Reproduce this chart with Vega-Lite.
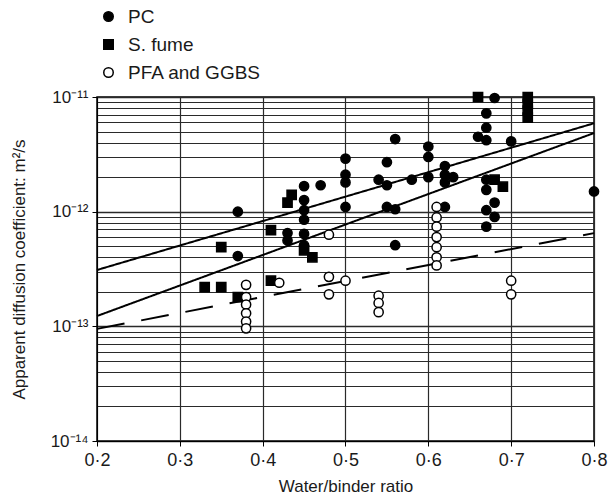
{
  "$schema": "https://vega.github.io/schema/vega-lite/v6.json",
  "width": 497,
  "height": 344,
  "autosize": "none",
  "padding": {"left": 97, "top": 97, "right": 15, "bottom": 58},
  "background": "white",
  "config": {
    "font": "Liberation Sans",
    "view": {"stroke": "black", "strokeWidth": 1.5},
    "axis": {"labelColor": "#1a1a1a", "titleColor": "#1a1a1a", "titleFontWeight": "normal", "domainColor": "black", "tickColor": "black"}
  },
  "datasets": {
    "fits": [
      {"fit": "PC upper", "wb": 0.2, "D": 3.1e-13},
      {"fit": "PC upper", "wb": 0.8, "D": 5.9e-12},
      {"fit": "all lower", "wb": 0.2, "D": 1.23e-13},
      {"fit": "all lower", "wb": 0.8, "D": 4.85e-12},
      {"fit": "blended", "wb": 0.2, "D": 9.5e-14},
      {"fit": "blended", "wb": 0.8, "D": 6.5e-13}
    ],
    "points": [
      {"binder": "PC", "wb": 0.37, "D": 1.0e-12},
      {"binder": "PC", "wb": 0.37, "D": 4.1e-13},
      {"binder": "PC", "wb": 0.43, "D": 6.5e-13},
      {"binder": "PC", "wb": 0.43, "D": 5.6e-13},
      {"binder": "PC", "wb": 0.45, "D": 1.67e-12},
      {"binder": "PC", "wb": 0.45, "D": 1.26e-12},
      {"binder": "PC", "wb": 0.45, "D": 1.03e-12},
      {"binder": "PC", "wb": 0.45, "D": 8.5e-13},
      {"binder": "PC", "wb": 0.45, "D": 6.4e-13},
      {"binder": "PC", "wb": 0.45, "D": 5.1e-13},
      {"binder": "PC", "wb": 0.47, "D": 1.7e-12},
      {"binder": "PC", "wb": 0.5, "D": 2.9e-12},
      {"binder": "PC", "wb": 0.5, "D": 2.1e-12},
      {"binder": "PC", "wb": 0.5, "D": 1.8e-12},
      {"binder": "PC", "wb": 0.5, "D": 1.1e-12},
      {"binder": "PC", "wb": 0.54, "D": 1.9e-12},
      {"binder": "PC", "wb": 0.55, "D": 2.7e-12},
      {"binder": "PC", "wb": 0.55, "D": 1.7e-12},
      {"binder": "PC", "wb": 0.55, "D": 1.1e-12},
      {"binder": "PC", "wb": 0.56, "D": 4.3e-12},
      {"binder": "PC", "wb": 0.56, "D": 1.05e-12},
      {"binder": "PC", "wb": 0.56, "D": 5.1e-13},
      {"binder": "PC", "wb": 0.58, "D": 1.9e-12},
      {"binder": "PC", "wb": 0.6, "D": 3.7e-12},
      {"binder": "PC", "wb": 0.6, "D": 3.0e-12},
      {"binder": "PC", "wb": 0.6, "D": 2.0e-12},
      {"binder": "PC", "wb": 0.62, "D": 2.5e-12},
      {"binder": "PC", "wb": 0.62, "D": 2.1e-12},
      {"binder": "PC", "wb": 0.62, "D": 1.8e-12},
      {"binder": "PC", "wb": 0.63, "D": 2.0e-12},
      {"binder": "PC", "wb": 0.62, "D": 1.1e-12},
      {"binder": "PC", "wb": 0.68, "D": 9.8e-12},
      {"binder": "PC", "wb": 0.67, "D": 7.2e-12},
      {"binder": "PC", "wb": 0.67, "D": 5.4e-12},
      {"binder": "PC", "wb": 0.66, "D": 4.5e-12},
      {"binder": "PC", "wb": 0.67, "D": 4.2e-12},
      {"binder": "PC", "wb": 0.7, "D": 4.1e-12},
      {"binder": "PC", "wb": 0.67, "D": 1.9e-12},
      {"binder": "PC", "wb": 0.67, "D": 1.55e-12},
      {"binder": "PC", "wb": 0.68, "D": 1.2e-12},
      {"binder": "PC", "wb": 0.67, "D": 1.03e-12},
      {"binder": "PC", "wb": 0.68, "D": 9.0e-13},
      {"binder": "PC", "wb": 0.67, "D": 7.4e-13},
      {"binder": "PC", "wb": 0.8, "D": 1.5e-12},
      {"binder": "S. fume", "wb": 0.35, "D": 4.9e-13},
      {"binder": "S. fume", "wb": 0.33, "D": 2.2e-13},
      {"binder": "S. fume", "wb": 0.35, "D": 2.2e-13},
      {"binder": "S. fume", "wb": 0.37, "D": 1.8e-13},
      {"binder": "S. fume", "wb": 0.41, "D": 6.9e-13},
      {"binder": "S. fume", "wb": 0.41, "D": 2.5e-13},
      {"binder": "S. fume", "wb": 0.43, "D": 1.2e-12},
      {"binder": "S. fume", "wb": 0.435, "D": 1.4e-12},
      {"binder": "S. fume", "wb": 0.45, "D": 4.6e-13},
      {"binder": "S. fume", "wb": 0.46, "D": 4.0e-13},
      {"binder": "S. fume", "wb": 0.66, "D": 1.0e-11},
      {"binder": "S. fume", "wb": 0.72, "D": 1.0e-11},
      {"binder": "S. fume", "wb": 0.72, "D": 8.7e-12},
      {"binder": "S. fume", "wb": 0.72, "D": 7.6e-12},
      {"binder": "S. fume", "wb": 0.72, "D": 6.6e-12},
      {"binder": "S. fume", "wb": 0.68, "D": 1.9e-12},
      {"binder": "S. fume", "wb": 0.69, "D": 1.65e-12},
      {"binder": "PFA and GGBS", "wb": 0.38, "D": 2.3e-13},
      {"binder": "PFA and GGBS", "wb": 0.38, "D": 1.8e-13},
      {"binder": "PFA and GGBS", "wb": 0.38, "D": 1.55e-13},
      {"binder": "PFA and GGBS", "wb": 0.38, "D": 1.3e-13},
      {"binder": "PFA and GGBS", "wb": 0.38, "D": 1.1e-13},
      {"binder": "PFA and GGBS", "wb": 0.38, "D": 9.6e-14},
      {"binder": "PFA and GGBS", "wb": 0.42, "D": 2.4e-13},
      {"binder": "PFA and GGBS", "wb": 0.48, "D": 6.3e-13},
      {"binder": "PFA and GGBS", "wb": 0.48, "D": 2.7e-13},
      {"binder": "PFA and GGBS", "wb": 0.48, "D": 1.9e-13},
      {"binder": "PFA and GGBS", "wb": 0.5, "D": 2.5e-13},
      {"binder": "PFA and GGBS", "wb": 0.54, "D": 1.85e-13},
      {"binder": "PFA and GGBS", "wb": 0.54, "D": 1.6e-13},
      {"binder": "PFA and GGBS", "wb": 0.54, "D": 1.33e-13},
      {"binder": "PFA and GGBS", "wb": 0.61, "D": 1.1e-12},
      {"binder": "PFA and GGBS", "wb": 0.61, "D": 8.9e-13},
      {"binder": "PFA and GGBS", "wb": 0.61, "D": 7.4e-13},
      {"binder": "PFA and GGBS", "wb": 0.61, "D": 6.0e-13},
      {"binder": "PFA and GGBS", "wb": 0.61, "D": 4.9e-13},
      {"binder": "PFA and GGBS", "wb": 0.61, "D": 4.0e-13},
      {"binder": "PFA and GGBS", "wb": 0.61, "D": 3.4e-13},
      {"binder": "PFA and GGBS", "wb": 0.7, "D": 2.5e-13},
      {"binder": "PFA and GGBS", "wb": 0.7, "D": 1.9e-13}
    ]
  },
  "layer": [
    {
      "data": {"name": "fits"},
      "mark": {"type": "line", "color": "black", "strokeWidth": 2},
      "encoding": {
        "x": {
          "field": "wb", "type": "quantitative",
          "scale": {"domain": [0.2, 0.8], "nice": false, "zero": false},
          "axis": {
            "title": "Water/binder ratio",
            "values": [0.2, 0.3, 0.4, 0.5, 0.6, 0.7, 0.8],
            "labelExpr": "replace(format(datum.value, '.1f'), '.', '·')",
            "labelFontSize": 18, "labelPadding": 5, "tickSize": 5,
            "labelFlush": false, "labelOverlap": false,
            "grid": true, "gridColor": "#2a2a2a", "gridWidth": 1.2,
            "titleFontSize": 17, "titlePadding": 9
          }
        },
        "y": {
          "field": "D", "type": "quantitative",
          "scale": {"type": "log", "domain": [1e-14, 1e-11], "nice": false},
          "axis": {
            "title": "Apparent diffusion coefficient: m²/s",
            "values": [1e-14, 2e-14, 3e-14, 4e-14, 5e-14, 6e-14, 7e-14, 8e-14, 9e-14,
                       1e-13, 2e-13, 3e-13, 4e-13, 5e-13, 6e-13, 7e-13, 8e-13, 9e-13,
                       1e-12, 2e-12, 3e-12, 4e-12, 5e-12, 6e-12, 7e-12, 8e-12, 9e-12, 1e-11],
            "labelExpr": "abs(log(datum.value)/LN10 - round(log(datum.value)/LN10)) > 0.001 ? '' : round(log(datum.value)/LN10) == -14 ? '10⁻¹⁴' : round(log(datum.value)/LN10) == -13 ? '10⁻¹³' : round(log(datum.value)/LN10) == -12 ? '10⁻¹²' : '10⁻¹¹'",
            "labelOverlap": false, "labelFlush": false,
            "labelFontSize": 17, "labelPadding": 4, "tickSize": 5,
            "tickOpacity": {"condition": {"test": "abs(log(datum.value)/LN10 - round(log(datum.value)/LN10)) < 0.001", "value": 1}, "value": 0},
            "grid": true, "gridColor": "#2a2a2a",
            "gridWidth": {"condition": {"test": "abs(log(datum.value)/LN10 - round(log(datum.value)/LN10)) < 0.001", "value": 1.6}, "value": 1.1},
            "titleFontSize": 17, "titlePadding": 22
          }
        },
        "detail": {"field": "fit"},
        "strokeDash": {
          "field": "fit", "type": "nominal",
          "scale": {"domain": ["PC upper", "all lower", "blended"], "range": [[1, 0], [1, 0], [28, 17]]},
          "legend": null
        }
      }
    },
    {
      "data": {"name": "points"},
      "mark": {"type": "point", "filled": true, "size": 85, "stroke": "black", "strokeWidth": 1.5, "opacity": 1, "clip": false},
      "encoding": {
        "x": {"field": "wb", "type": "quantitative"},
        "y": {"field": "D", "type": "quantitative"},
        "shape": {
          "field": "binder", "type": "nominal",
          "scale": {"domain": ["PC", "S. fume", "PFA and GGBS"], "range": ["circle", "square", "circle"]},
          "legend": {
            "title": null, "orient": "none", "legendX": 2, "legendY": -90, "padding": 0,
            "labelFontSize": 19, "labelColor": "#1a1a1a", "labelOffset": 10,
            "symbolSize": 90, "rowPadding": 8,
            "encode": {"symbols": {"update": {"stroke": {"value": "black"}, "strokeWidth": {"value": 1.5}}}}
          }
        },
        "fill": {
          "field": "binder", "type": "nominal",
          "scale": {"domain": ["PC", "S. fume", "PFA and GGBS"], "range": ["black", "black", "white"]},
          "legend": {
            "title": null, "orient": "none", "legendX": 2, "legendY": -90, "padding": 0,
            "labelFontSize": 19, "labelColor": "#1a1a1a", "labelOffset": 10,
            "symbolSize": 90, "rowPadding": 8,
            "encode": {"symbols": {"update": {"stroke": {"value": "black"}, "strokeWidth": {"value": 1.5}}}}
          }
        }
      }
    }
  ]
}
